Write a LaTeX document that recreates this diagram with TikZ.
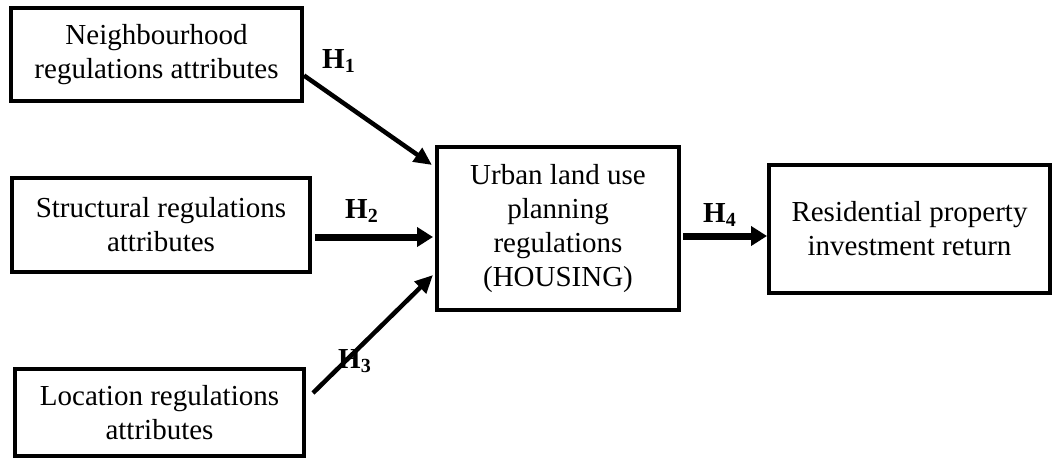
\documentclass[tikz,border=0pt]{standalone}
\usepackage{fontspec}
\setmainfont{Liberation Serif}
\usetikzlibrary{arrows.meta}
\newcommand{\hyp}[1]{H\raisebox{-4pt}{\fontsize{20}{20}\selectfont #1}}
\begin{document}
\begin{tikzpicture}[x=1pt,y=-1pt,
  box/.style={draw, line width=4pt, align=center, inner sep=0pt, font=\fontsize{29}{34}\selectfont},
  thinarrow/.style={line width=4.5pt, -{Triangle[length=18pt,width=16pt]}},
  thickarrow/.style={line width=7pt, -{Triangle[length=16pt,width=19pt]}},
  hlab/.style={font=\fontsize{29}{34}\selectfont\bfseries, inner sep=0pt, anchor=base west}]
\useasboundingbox (0,0) rectangle (1054,459);

\node[box, minimum width=291pt, minimum height=93pt] (nb) at (156.5,54.5) {Neighbourhood\\regulations attributes};
\node[box, minimum width=298pt, minimum height=94pt] (st) at (161,225) {Structural regulations\\attributes};
\node[box, minimum width=289pt, minimum height=87pt] (lo) at (159.5,412.5) {Location regulations\\attributes};
\node[box, minimum width=242pt, minimum height=163pt] (ul) at (558,228.5) {Urban land use\\planning\\regulations\\(HOUSING)};
\node[box, minimum width=281pt, minimum height=128pt] (rp) at (909.5,229) {Residential property\\investment return};

\draw[thinarrow] ([yshift=-21pt]nb.east) -- ([xshift=-3pt,yshift=63.5pt]ul.west);
\draw[thickarrow] ([xshift=3pt,yshift=-12pt]st.east) -- ([xshift=-2pt,yshift=-8.5pt]ul.west);
\draw[thinarrow] ([xshift=7pt,yshift=19.5pt]lo.east) -- ([xshift=-2pt,yshift=-46.5pt]ul.west);
\draw[thickarrow] ([xshift=2pt,yshift=-7.5pt]ul.east) -- ([yshift=-7pt]rp.west);

\node[hlab] (h1) at (322,68) {\hyp{1}};
\node[hlab] (h2) at (345,218) {\hyp{2}};
\node[hlab] (h3) at (338,368) {\hyp{3}};
\node[hlab] (h4) at (703,222) {\hyp{4}};
\end{tikzpicture}
\end{document}
